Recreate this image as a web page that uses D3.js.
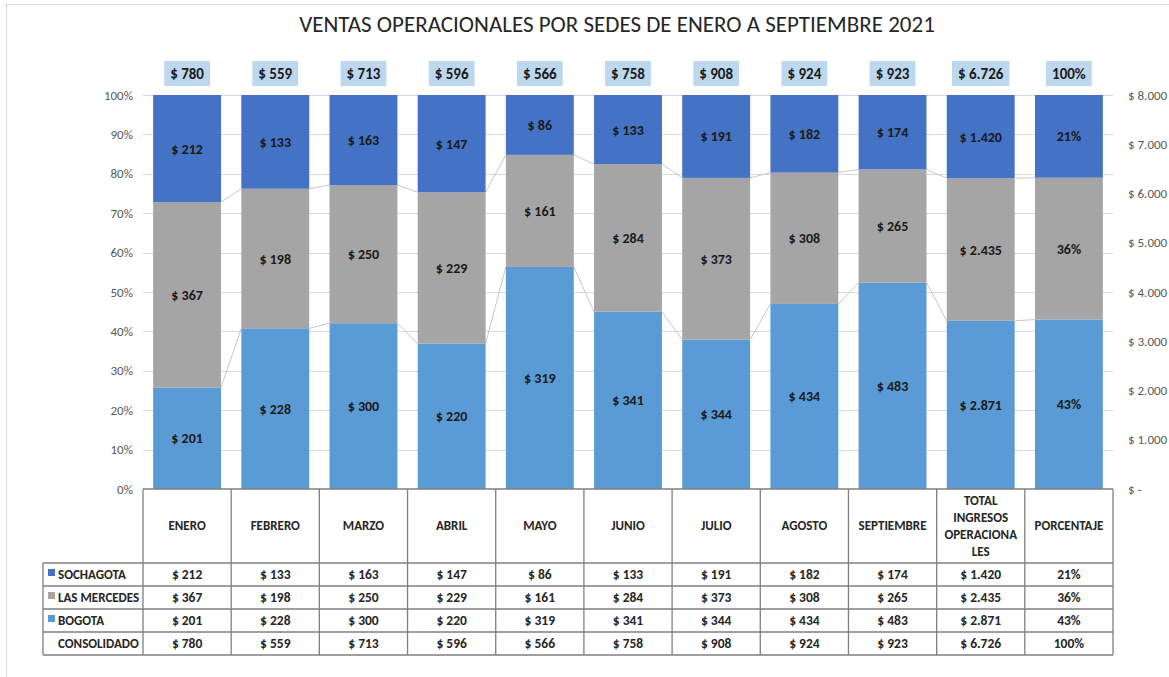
<!DOCTYPE html>
<html>
<head>
<meta charset="utf-8">
<script src="https://cdn.jsdelivr.net/npm/d3@7/dist/d3.min.js"></script>
<style>
  html, body { margin: 0; padding: 0; background: #fff; }
  svg { display: block; font-family: Carlito, Lato, "Open Sans", sans-serif; }
</style>
</head>
<body>
<svg id="chart" width="1169" height="677"></svg>
<script>
// ---------- DATA ----------
const categories = ["ENERO","FEBRERO","MARZO","ABRIL","MAYO","JUNIO","JULIO","AGOSTO","SEPTIEMBRE","TOTAL INGRESOS OPERACIONALES","PORCENTAJE"];
const headerLines = [["ENERO"],["FEBRERO"],["MARZO"],["ABRIL"],["MAYO"],["JUNIO"],["JULIO"],["AGOSTO"],["SEPTIEMBRE"],["TOTAL","INGRESOS","OPERACIONA","LES"],["PORCENTAJE"]];
const seriesNames = ["SOCHAGOTA","LAS MERCEDES","BOGOTA"];
const sochagota   = [212,133,163,147,86,133,191,182,174,1420];
const lasMercedes = [367,198,250,229,161,284,373,308,265,2435];
const bogota      = [201,228,300,220,319,341,344,434,483,2871];
const consolidado = [780,559,713,596,566,758,908,924,923,6726];
const porcentaje  = [21,36,43,100]; // SOCHAGOTA, LAS MERCEDES, BOGOTA, CONSOLIDADO
const leftTicks = [0,0.1,0.2,0.3,0.4,0.5,0.6,0.7,0.8,0.9,1];
const rightTicks = [0,1000,2000,3000,4000,5000,6000,7000,8000];
const colors = {"SOCHAGOTA":"#4472C4","LAS MERCEDES":"#A5A5A5","BOGOTA":"#5B9BD5"};

// ---------- SETUP ----------
const svg = d3.select("#chart");
const loc = d3.formatLocale({decimal: ",", thousands: ".", grouping: [3], currency: ["$ ", ""]});
const money = v => "$ " + loc.format(",.0f")(v);
const pct = v => v + "%";

const x = d3.scaleBand().domain(categories).range([143, 1113]).paddingInner(0.23).paddingOuter(0.115);
const y = d3.scaleLinear().domain([0, 1]).range([489, 95]);
const yR = d3.scaleLinear().domain([0, 8000]).range([489, 95]);

// outer frame lines
svg.append("line").attr("x1", 6).attr("x2", 1169).attr("y1", 4.5).attr("y2", 4.5).attr("stroke", "#d9d9d9");
svg.append("line").attr("x1", 6.5).attr("x2", 6.5).attr("y1", 4).attr("y2", 677).attr("stroke", "#d9d9d9");

// title
svg.append("text").attr("x", 617).attr("y", 32).attr("text-anchor", "middle")
  .attr("font-size", 23).attr("fill", "#262626")
  .text("VENTAS OPERACIONALES POR SEDES DE ENERO A SEPTIEMBRE 2021");

// gridlines
svg.append("g").selectAll("line").data(leftTicks.slice(1)).join("line")
  .attr("x1", 143).attr("x2", 1113)
  .attr("y1", d => Math.round(y(d)) + 0.5).attr("y2", d => Math.round(y(d)) + 0.5)
  .attr("stroke", "#d9d9d9").attr("stroke-width", 1);

// left axis
const gl = svg.append("g").attr("transform", "translate(138,0)")
  .call(d3.axisLeft(y).tickValues(leftTicks).tickFormat(d3.format(".0%")).tickSize(0).tickPadding(5));
gl.select(".domain").remove();
gl.selectAll("text").attr("font-size", 13).attr("fill", "#595959").style("font-family", "Carlito, Lato, sans-serif");

// right axis
const gr = svg.append("g").attr("transform", "translate(1122,0)")
  .call(d3.axisRight(yR).tickValues(rightTicks).tickFormat(v => v === 0 ? "$ -" : money(v)).tickSize(0).tickPadding(6));
gr.select(".domain").remove();
gr.selectAll("text").attr("font-size", 13).attr("fill", "#595959").style("font-family", "Carlito, Lato, sans-serif");

// build stacked data (order bottom->top: BOGOTA, LAS MERCEDES, SOCHAGOTA)
const rows = categories.map((c, i) => {
  if (i < consolidado.length) {
    return {cat: c, values: {"BOGOTA": bogota[i], "LAS MERCEDES": lasMercedes[i], "SOCHAGOTA": sochagota[i]}, total: consolidado[i], isPct: false};
  }
  return {cat: c, values: {"BOGOTA": porcentaje[2], "LAS MERCEDES": porcentaje[1], "SOCHAGOTA": porcentaje[0]}, total: porcentaje[3], isPct: true};
});
const order = ["BOGOTA", "LAS MERCEDES", "SOCHAGOTA"];
rows.forEach(r => {
  const sum = order.reduce((s, k) => s + r.values[k], 0);
  let acc = 0;
  r.segs = order.map(k => {
    const y0 = acc / sum; acc += r.values[k]; const y1 = acc / sum;
    return {key: k, y0, y1, v: r.values[k], isPct: r.isPct, cat: r.cat};
  });
});

// series lines
const sl = svg.append("g");
for (let i = 0; i < rows.length - 1; i++) {
  for (let s = 0; s < 2; s++) {
    const a = rows[i].segs[s].y1, b = rows[i + 1].segs[s].y1;
    sl.append("line")
      .attr("x1", x(rows[i].cat) + x.bandwidth()).attr("y1", y(a))
      .attr("x2", x(rows[i + 1].cat)).attr("y2", y(b))
      .attr("stroke", "#c8c8c8").attr("stroke-width", 1);
  }
}

// bars
const gBars = svg.append("g");
rows.forEach(r => {
  gBars.selectAll(null).data(r.segs).join("rect")
    .attr("x", x(r.cat)).attr("width", x.bandwidth())
    .attr("y", d => y(d.y1)).attr("height", d => y(d.y0) - y(d.y1))
    .attr("fill", d => colors[d.key]);
  gBars.selectAll(null).data(r.segs).join("text")
    .attr("x", x(r.cat) + x.bandwidth() / 2)
    .attr("y", d => (y(d.y0) + y(d.y1)) / 2 + 5)
    .attr("text-anchor", "middle").attr("font-size", 14).attr("font-weight", "bold").attr("fill", "#1a1a1a")
    .text(d => d.isPct ? pct(d.v) : money(d.v));
});

// top total labels with boxes
const gTop = svg.append("g");
rows.forEach(r => {
  const t = r.isPct ? pct(r.total) : money(r.total);
  const cx = x(r.cat) + x.bandwidth() / 2;
  const g = gTop.append("g");
  const txt = g.append("text").attr("x", cx).attr("y", 79).attr("text-anchor", "middle")
    .attr("font-size", 15).attr("font-weight", "bold").attr("fill", "#1a1a1a").text(t);
  const w = txt.node().getComputedTextLength() + 12;
  g.insert("rect", "text").attr("x", cx - w / 2).attr("y", 61).attr("width", w).attr("height", 25).attr("fill", "#BDD7EE");
});

// ---------- TABLE ----------
const tbl = svg.append("g");
const lineColor = "#7f7f7f";
const colEdges = categories.map(c => x(c) - x.step() * x.paddingInner() / 2).concat([1113]);
colEdges[0] = 143;
const rowY = [563, 586, 609, 632, 655];
tbl.append("line").attr("x1", 143).attr("x2", 1113).attr("y1", 489).attr("y2", 489).attr("stroke", lineColor).attr("stroke-width", 1.3);
colEdges.forEach(xe => {
  tbl.append("line").attr("x1", xe).attr("x2", xe).attr("y1", 489).attr("y2", 655).attr("stroke", lineColor).attr("stroke-width", 1.3);
});
tbl.append("line").attr("x1", 43).attr("x2", 43).attr("y1", 563).attr("y2", 655).attr("stroke", lineColor).attr("stroke-width", 1.3);
rowY.forEach(ry => {
  tbl.append("line").attr("x1", 43).attr("x2", 1113).attr("y1", ry).attr("y2", ry).attr("stroke", lineColor).attr("stroke-width", 1.3);
});

// header texts
categories.forEach((c, i) => {
  const lines = headerLines[i];
  const cx = x(c) + x.bandwidth() / 2;
  const lh = 17;
  const start = 530 - (lines.length - 1) * lh / 2;
  lines.forEach((ln, j) => {
    tbl.append("text").attr("x", cx).attr("y", start + j * lh).attr("text-anchor", "middle")
      .attr("font-size", 13).attr("font-weight", "bold").attr("fill", "#262626").text(ln);
  });
});

// row data
const tableRows = [
  {name: "SOCHAGOTA", vals: sochagota, p: porcentaje[0], color: colors["SOCHAGOTA"]},
  {name: "LAS MERCEDES", vals: lasMercedes, p: porcentaje[1], color: colors["LAS MERCEDES"]},
  {name: "BOGOTA", vals: bogota, p: porcentaje[2], color: colors["BOGOTA"]},
  {name: "CONSOLIDADO", vals: consolidado, p: porcentaje[3], color: null}
];
tableRows.forEach((tr, ri) => {
  const cy = (rowY[ri] + rowY[ri + 1]) / 2 + 4.5;
  if (tr.color) {
    tbl.append("rect").attr("x", 48).attr("y", cy - 10).attr("width", 7).attr("height", 7).attr("fill", tr.color);
  }
  tbl.append("text").attr("x", 58).attr("y", cy).attr("font-size", 13).attr("font-weight", "bold").attr("fill", "#262626").text(tr.name);
  categories.forEach((c, i) => {
    const v = i < tr.vals.length ? money(tr.vals[i]) : pct(tr.p);
    tbl.append("text").attr("x", x(c) + x.bandwidth() / 2).attr("y", cy).attr("text-anchor", "middle")
      .attr("font-size", 13.5).attr("font-weight", "bold").attr("fill", "#262626").text(v);
  });
});
</script>
</body>
</html>
